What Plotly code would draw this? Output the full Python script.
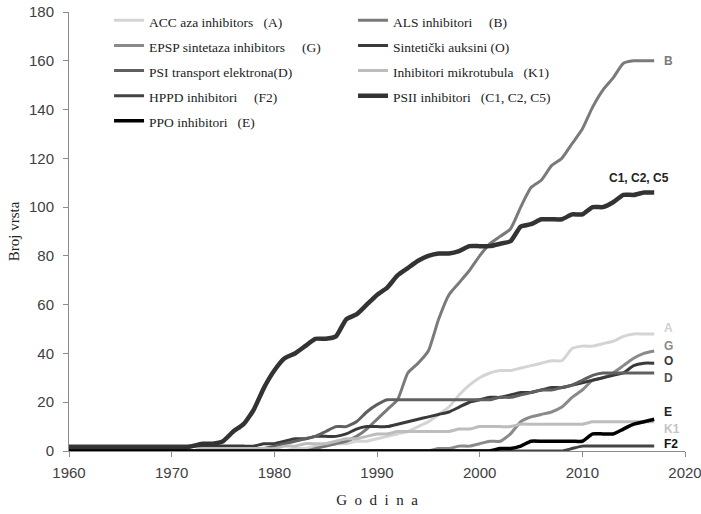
import plotly.graph_objects as go

# ---------------- data (years 1960..2017) ----------------
YEARS = list(range(1960, 2018))

# ACCase inhibitors (A)
ACC_A = [0,0,0,0,0,0,0,0,0,0,            # 1960-69
         0,0,0,0,0,0,0,0,0,0,            # 1970-79
         0,0,1,1,2,2,3,3,4,4,            # 1980-89
         5,6,7,8,10,12,15,18,23,27,      # 1990-99
         30,32,33,33,34,35,36,37,37,42,  # 2000-09
         43,43,44,45,47,48,48,48]        # 2010-17
# ALS inhibitors (B)
ALS_B = [0,0,0,0,0,0,0,0,0,0,
         0,0,0,0,0,0,0,0,0,0,
         0,0,0,0,1,2,3,4,6,9,
         13,17,21,32,36,41,54,64,69,74,
         80,85,88,91,100,108,111,117,120,126,
         132,141,148,153,159,160,160,160]
# EPSP synthase inhibitors (G)
EPSP_G = [0,0,0,0,0,0,0,0,0,0,
          0,0,0,0,0,0,0,0,0,0,
          0,0,0,0,0,0,0,0,0,0,
          0,0,0,0,0,0,1,1,2,2,
          3,4,4,7,12,14,15,16,18,22,
          25,29,30,32,35,38,40,41]
# Synthetic auxins (O)
AUX_O = [2,2,2,2,2,2,2,2,2,2,
         2,2,2,2,2,2,2,2,2,3,
         3,4,5,5,6,6,6,7,9,10,
         10,10,11,12,13,14,15,16,18,20,
         21,22,22,23,24,24,25,26,26,27,
         28,29,30,31,32,35,36,36]
# PSI electron transport (D)
PSI_D = [0,0,0,0,0,0,0,0,0,0,
         0,0,0,0,0,0,0,0,0,1,
         2,3,4,5,6,8,10,10,12,16,
         19,21,21,21,21,21,21,21,21,21,
         21,21,22,22,23,24,25,25,26,27,
         29,31,32,32,32,32,32,32]
# Microtubule inhibitors (K1)
MT_K1 = [0,0,0,0,0,0,0,0,0,0,
         0,0,0,1,1,1,1,1,1,1,
         1,2,2,3,3,3,4,5,5,6,
         7,7,8,8,8,8,8,8,9,9,
         10,10,10,10,11,11,11,11,11,11,
         11,12,12,12,12,12,12,12]
# HPPD inhibitors (F2)
HPPD_F2 = [0,0,0,0,0,0,0,0,0,0,
           0,0,0,0,0,0,0,0,0,0,
           0,0,0,0,0,0,0,0,0,0,
           0,0,0,0,0,0,0,0,0,0,
           0,0,0,0,0,0,0,0,0,1,
           2,2,2,2,2,2,2,2]
# PSII inhibitors (C1, C2, C5)
PSII_C = [1,1,1,1,1,1,1,1,1,1,
          1,1,2,3,3,4,8,11,17,26,
          33,38,40,43,46,46,47,54,56,60,
          64,67,72,75,78,80,81,81,82,84,
          84,84,85,86,92,93,95,95,95,97,
          97,100,100,102,105,105,106,106]
# PPO inhibitors (E)
PPO_E = [0,0,0,0,0,0,0,0,0,0,
         0,0,0,0,0,0,0,0,0,0,
         0,0,0,0,0,0,0,0,0,0,
         0,0,0,0,0,0,0,0,0,0,
         0,0,1,1,2,4,4,4,4,4,
         4,7,7,7,9,11,12,13]

SANS = "Liberation Sans"
SERIF = "Liberation Serif"

NAMES = [
    "ACC aza inhibitors\u2002 (A)",
    "ALS inhibitori\u2003 (B)",
    "EPSP sintetaza inhibitors\u2003 (G)",
    "Sintetički auksini (O)",
    "PSI transport elektrona(D)",
    "Inhibitori mikrotubula\u2002 (K1)",
    "HPPD inhibitori\u2003 (F2)",
    "PSII inhibitori\u2002 (C1, C2, C5)",
    "PPO inhibitori\u2002 (E)",
]
VALUES = [ACC_A, ALS_B, EPSP_G, AUX_O, PSI_D, MT_K1, HPPD_F2, PSII_C, PPO_E]
COLORS = ["#d4d4d4", "#7a7a7a", "#8a8a8a", "#3a3a3a", "#606060",
          "#bdbdbd", "#444444", "#333333", "#000000"]
WIDTHS = [3, 3, 3, 3, 3, 3, 3, 4.5, 3.5]

fig = go.Figure()
for name, vals, col, w in zip(NAMES, VALUES, COLORS, WIDTHS):
    fig.add_trace(go.Scatter(
        x=YEARS, y=vals, name=f'<span style="font-size:13.5px">{name}</span>', mode="lines",
        line=dict(color=col, width=w, shape="spline", smoothing=0.5),
    ))

# end labels
labels = [
    ("B", ALS_B, "#7a7a7a", 0),
    ("A", ACC_A, "#d0d0d0", 6),
    ("G", EPSP_G, "#8a8a8a", 5),
    ("O", AUX_O, "#3a3a3a", 2),
    ("D", PSI_D, "#505050", -5),
    ("E", PPO_E, "#222222", 7),
    ("K1", MT_K1, "#c4c4c4", -7),
    ("F2", HPPD_F2, "#111111", 2),
]
for txt, vals, col, ys in labels:
    fig.add_annotation(x=YEARS[-1], y=vals[-1], text=f"<b>{txt}</b>", showarrow=False,
                       xanchor="left", xshift=8, yshift=ys,
                       font=dict(family=SANS, size=12, color=col))
fig.add_annotation(x=YEARS[-1] - 1.5, y=PSII_C[-1], text="<b>C1, C2, C5</b>", showarrow=False,
                   xanchor="center", yshift=14,
                   font=dict(family=SANS, size=12, color="#222222"))

fig.update_layout(
    width=701, height=514,
    margin=dict(l=69, r=16, t=12, b=63, autoexpand=False),
    plot_bgcolor="white", paper_bgcolor="white",
    showlegend=True,
    legend=dict(
        orientation="h", x=0.065, y=1.021, xanchor="left", yanchor="top",
        entrywidth=199, entrywidthmode="pixels", itemwidth=30,
        font=dict(family=SERIF, size=17, color="#222222"),
        bgcolor="rgba(0,0,0,0)",
        traceorder="normal",
    ),
    xaxis=dict(
        range=[1960, 2020], dtick=10, showgrid=False, zeroline=False, automargin=False,
        showline=True, linecolor="#8c8c8c", linewidth=1,
        ticks="outside", ticklen=5, tickcolor="#8c8c8c", ticklabelstandoff=3,
        ticklabeloverflow="allow",
        tickfont=dict(family=SANS, size=15, color="#404040"),
        title=dict(text="G\u2002o\u2002d\u2002i\u2002n\u2002a",
                   font=dict(family=SERIF, size=15, color="#222222"), standoff=14),
    ),
    yaxis=dict(
        range=[0, 180], dtick=20, showgrid=False, zeroline=False, automargin=False,
        showline=True, linecolor="#8c8c8c", linewidth=1,
        ticks="outside", ticklen=5, tickcolor="#8c8c8c", ticklabelstandoff=6,
        ticklabeloverflow="allow",
        tickfont=dict(family=SANS, size=15, color="#404040"),
        title=dict(text="Broj vrsta", font=dict(family=SERIF, size=15, color="#222222"), standoff=5),
    ),
)

fig.write_html("out.html", config={"displayModeBar": False},
               post_script="document.body.style.margin='0';document.body.style.overflow='hidden';")
